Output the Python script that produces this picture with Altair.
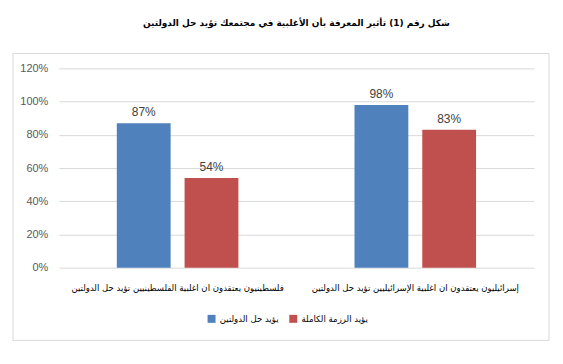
import altair as alt
import pandas as pd

categories = [
    "فلسطينيون يعتقدون ان اغلبية الفلسطينيين تؤيد حل الدولتين",
    "إسرائيليون يعتقدون ان اغلبية الإسرائيليين تؤيد حل الدولتين",
]
series = ["يؤيد حل الدولتين", "يؤيد الرزمة الكاملة"]
two_state = [0.87, 0.98]
full_package = [0.54, 0.83]
colors = ["#4F81BD", "#C0504D"]
y_ticks = [0, 0.2, 0.4, 0.6, 0.8, 1.0, 1.2]
title_text = "شكل رقم (1) تأثير المعرفة بأن الأغلبية في مجتمعك تؤيد حل الدولتين"

rows = []
for i, c in enumerate(categories):
    rows.append({"cat": c, "series": series[0], "value": two_state[i]})
    rows.append({"cat": c, "series": series[1], "value": full_package[i]})
df = pd.DataFrame(rows)

base = alt.Chart(df).encode(
    x=alt.X(
        "cat:N", sort=categories, title=None,
        scale=alt.Scale(paddingInner=0.4885, paddingOuter=0.244),
        axis=alt.Axis(labelAngle=0, ticks=False, domain=False, labelFont="DejaVu Sans",
                      labelFontSize=8.6, labelColor="#000000", labelPadding=16, labelLimit=320),
    ),
    xOffset=alt.XOffset("series:N", sort=series,
                        scale=alt.Scale(paddingInner=0.206, paddingOuter=0)),
    y=alt.Y(
        "value:Q", title=None, scale=alt.Scale(domain=[0, 1.2]),
        axis=alt.Axis(format="%", values=y_ticks, ticks=False, domain=False,
                      gridColor="#d9d9d9", labelColor="#595959", labelFont="Liberation Sans",
                      labelFontSize=11, labelPadding=11),
    ),
)

bars = base.mark_bar().encode(
    color=alt.Color(
        "series:N", sort=series, scale=alt.Scale(domain=series, range=colors),
        legend=alt.Legend(title=None, orient="none", legendX=149, legendY=247, direction="horizontal",
                          symbolType="square", symbolSize=64, symbolStrokeWidth=0,
                          labelFont="DejaVu Sans", labelFontSize=8.6, labelColor="#000000",
                          columnPadding=10, labelOffset=4),
    )
)

labels = base.mark_text(dy=-4, baseline="bottom", color="#404040", font="Liberation Sans",
                        fontSize=12).encode(text=alt.Text("value:Q", format=".0%"))

border = alt.Chart(alt.Data(values=[{"a": 1}])).mark_rect(
    fillOpacity=0, stroke="#d9d9d9", strokeWidth=1
).encode(x=alt.value(-46), x2=alt.value(492), y=alt.value(-15), y2=alt.value(273))

chart = alt.layer(border, bars, labels).properties(
    width=477, height=200,
    title=alt.TitleParams(text=title_text, font="DejaVu Sans", fontSize=9, fontWeight="bold",
                          anchor="middle", offset=25, color="#000000"),
    padding={"left": 4, "top": 10, "right": 5, "bottom": 5},
    background="white",
).configure_view(strokeWidth=0)

chart.save("out.html", embed_options={"renderer": "svg", "actions": False})
